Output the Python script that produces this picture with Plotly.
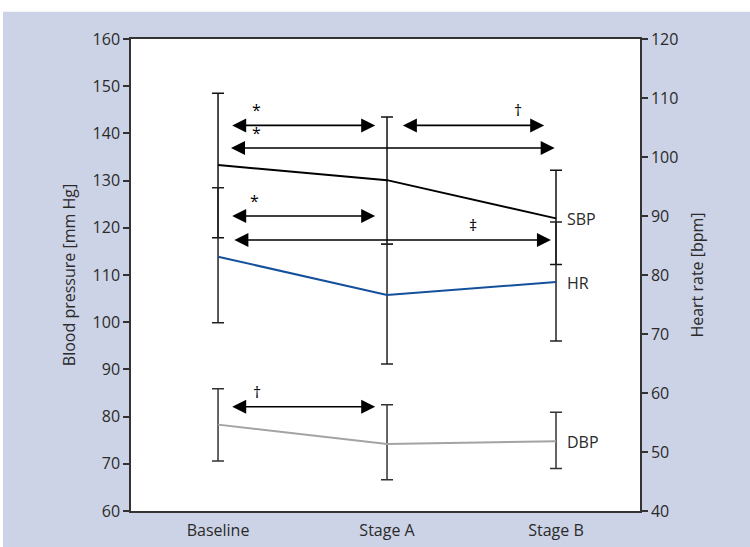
import plotly.graph_objects as go

# ---------------- data ----------------
categories = ["Baseline", "Stage A", "Stage B"]

sbp = [133.3, 130.1, 122.0]
sbp_err_plus = [15.2, 13.4, 10.2]
sbp_err_minus = [15.4, 13.6, 9.8]

hr = [83.1, 76.6, 78.8]
hr_err_plus = [11.7, 8.6, 10.2]
hr_err_minus = [11.2, 11.7, 10.0]

dbp = [78.3, 74.2, 74.8]
dbp_err_plus = [7.6, 8.3, 6.1]
dbp_err_minus = [7.7, 7.6, 5.8]

# significance comparisons (from, to, level on BP axis, symbol)
comp_from = ["Baseline", "Stage A", "Baseline", "Baseline", "Baseline", "Baseline"]
comp_to = ["Stage A", "Stage B", "Stage B", "Stage A", "Stage B", "Stage A"]
comp_level = [141.7, 141.7, 136.9, 122.5, 117.4, 82.1]
comp_symbol = ["*", "\u2020", "*", "*", "\u2021", "\u2020"]

left_ticks = list(range(60, 161, 10))
right_ticks = list(range(40, 121, 10))

# ---------------- layout / style ----------------
BG = "#cdd3e6"
AX = "#333333"
TXT = "#2a2a2a"
FONT = "Open Sans"

# offsets (category units) for arrow ends and symbol placement
start_off = [0.075, 0.085, 0.068, 0.075, 0.088, 0.075]
end_off = [0.07, 0.07, 0.008, 0.07, 0.03, 0.07]
symbol_x = [0.23, 1.775, 0.23, 0.215, 1.51, 0.23]

idx = {c: i for i, c in enumerate(categories)}

fig = go.Figure()

fig.add_trace(go.Scatter(
    x=categories, y=sbp, mode="lines", name="SBP",
    line=dict(color="#000000", width=2),
    error_y=dict(type="data", symmetric=False, array=sbp_err_plus,
                 arrayminus=sbp_err_minus, color="#111111", thickness=1.5, width=6),
    showlegend=False, cliponaxis=False,
))
fig.add_trace(go.Scatter(
    x=categories, y=hr, mode="lines", name="HR", yaxis="y2",
    line=dict(color="#14509c", width=2),
    error_y=dict(type="data", symmetric=False, array=hr_err_plus,
                 arrayminus=hr_err_minus, color="#222222", thickness=1.5, width=6),
    showlegend=False, cliponaxis=False,
))
fig.add_trace(go.Scatter(
    x=categories, y=dbp, mode="lines", name="DBP",
    line=dict(color="#a3a3a3", width=2),
    error_y=dict(type="data", symmetric=False, array=dbp_err_plus,
                 arrayminus=dbp_err_minus, color="#333333", thickness=1.5, width=6),
    showlegend=False, cliponaxis=False,
))

annotations = []
for i in range(len(comp_from)):
    x0 = idx[comp_from[i]] + start_off[i]
    x1 = idx[comp_to[i]] - end_off[i]
    y = comp_level[i]
    annotations.append(dict(
        x=x1, y=y, ax=x0, ay=y, xref="x", yref="y", axref="x", ayref="y",
        text="", showarrow=True, arrowside="end+start",
        arrowhead=2, startarrowhead=2, arrowsize=1.75, startarrowsize=1.75,
        arrowwidth=1.6, arrowcolor="#000000", standoff=0, startstandoff=0,
    ))
    annotations.append(dict(
        x=symbol_x[i], y=y, xref="x", yref="y", text=comp_symbol[i],
        showarrow=False, yanchor="bottom", yshift=2,
        font=dict(family=FONT, size=16, color="#000000"),
    ))

# series labels at the Stage B end
for name, vals, yref in (("SBP", sbp, "y"), ("HR", hr, "y2"), ("DBP", dbp, "y")):
    annotations.append(dict(
        x=categories[-1], y=vals[-1], xref="x", yref=yref, text=name,
        showarrow=False, xanchor="left", yanchor="middle", xshift=9, yshift=-1,
        font=dict(family=FONT, size=16, color=TXT),
    ))

shapes = [
    # white strip along the top and left edge of the page
    dict(type="rect", xref="paper", yref="paper", x0=-0.3, x1=1.3, y0=1.0575, y1=1.2,
         fillcolor="#ffffff", line=dict(width=0), layer="below"),
    dict(type="rect", xref="paper", yref="paper", x0=-0.3, x1=-0.2515, y0=-0.2, y1=1.2,
         fillcolor="#ffffff", line=dict(width=0), layer="below"),
]

fig.update_layout(
    width=750, height=547,
    margin=dict(l=131, r=110, t=39, b=36, pad=0, autoexpand=False),
    paper_bgcolor=BG, plot_bgcolor="#ffffff",
    font=dict(family=FONT, size=16, color=TXT),
    showlegend=False,
    annotations=annotations,
    shapes=shapes,
    xaxis=dict(
        type="category", range=[-0.515, 2.497], automargin=False,
        showline=True, linecolor=AX, linewidth=1.5, mirror=True,
        ticks="", showgrid=False, zeroline=False, ticklabelstandoff=4,
        tickfont=dict(family=FONT, size=16, color=TXT),
    ),
    yaxis=dict(
        range=[60, 160], tickvals=left_ticks, showgrid=False, zeroline=False,
        showline=True, linecolor=AX, linewidth=1.5, automargin=False,
        ticks="outside", ticklen=6, tickwidth=1.5, tickcolor=AX,
        tickfont=dict(family=FONT, size=16, color=TXT),
        title=dict(text="Blood pressure [mm Hg]", standoff=13,
                   font=dict(family=FONT, size=16, color=TXT)),
    ),
    yaxis2=dict(
        range=[40, 120], tickvals=right_ticks, overlaying="y", side="right",
        showgrid=False, zeroline=False, automargin=False,
        showline=True, linecolor=AX, linewidth=1.5,
        ticks="outside", ticklen=6, tickwidth=1.5, tickcolor=AX,
        tickfont=dict(family=FONT, size=16, color=TXT),
        title=dict(text="Heart rate [bpm]", standoff=14,
                   font=dict(family=FONT, size=16, color=TXT)),
    ),
)

fig.write_html("out.html")
